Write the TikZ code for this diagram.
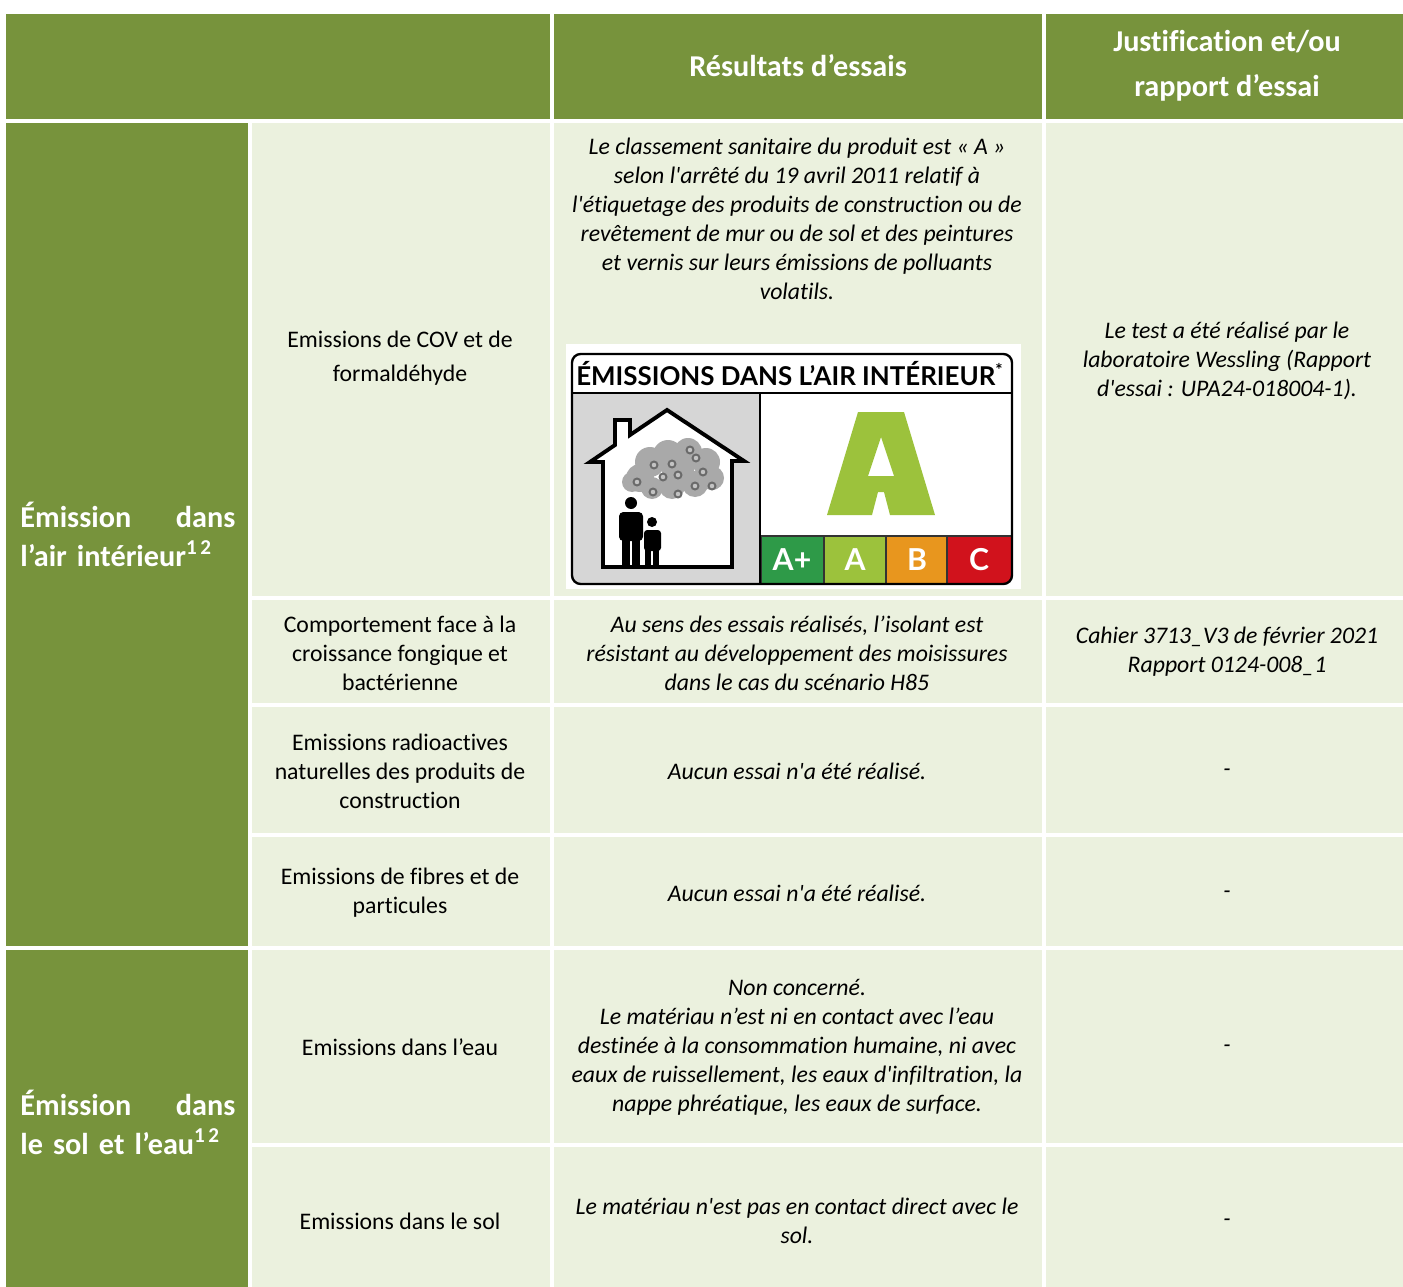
\documentclass[tikz,border=0pt]{standalone}
\usepackage{fontspec}
\setmainfont{Carlito}[Ligatures={TeX,NoCommon}]
\newfontfamily\logofont{Lato}
\definecolor{hdrgreen}{HTML}{77933C}
\definecolor{cellgreen}{HTML}{EBF1DE}
\definecolor{panelgray}{HTML}{D6D6D6}
\definecolor{cloudgray}{HTML}{A9A9A9}
\definecolor{dotgray}{HTML}{6A6A6A}
\definecolor{aplusgreen}{HTML}{2E9A48}
\definecolor{agreen}{HTML}{9CC23C}
\definecolor{borange}{HTML}{E8961E}
\definecolor{cred}{HTML}{D1121C}
\newcommand{\sq}{\textquotesingle}
\begin{document}
\begin{tikzpicture}[x=0.463pt, y=-0.463pt,
		hdr/.style={text=white, font=\fontsize{14}{20.8}\selectfont\bfseries, align=center, inner sep=0pt},
		grp/.style={text=white, font=\fontsize{14}{18}\selectfont\bfseries, align=left, text width=99.5pt, anchor=west, inner sep=0pt},
		crit/.style={font=\fontsize{11}{13.4}\selectfont, align=center, inner sep=0pt},
		res/.style={font=\fontsize{11}{13.4}\selectfont\itshape, align=center, inner sep=0pt},
		badge/.style={text=white, font=\logofont\fontsize{14}{14}\selectfont\bfseries, inner sep=0pt}]
		\useasboundingbox (0,0) rectangle (1403,1287);
		% header row
		\fill[hdrgreen] (6,14) rectangle (550,119);
		\fill[hdrgreen] (554,14) rectangle (1042,119);
		\fill[hdrgreen] (1046,14) rectangle (1403,119);
		\node[hdr] (hres) at (798,66) {Résultats d’essais};
		\node[hdr] (hjust) at (1227,66) {Justification et/ou\\rapport d’essai};
		% cells
		\fill[hdrgreen] (6,123) rectangle (248,946);
		\fill[hdrgreen] (6,950) rectangle (248,1287);
		\foreach \t/\b in {123/596, 600/703, 707/833, 837/946, 950/1143, 1147/1287} {
			\fill[cellgreen] (252,\t) rectangle (550,\b);
			\fill[cellgreen] (554,\t) rectangle (1042,\b);
			\fill[cellgreen] (1046,\t) rectangle (1403,\b);
		}
		\node[grp] (gair) at (20,534) {Émission\hfill dans\\l’air intérieur\textsuperscript{1\,2}};
		\node[grp] (gsol) at (20,1122) {Émission\hfill dans\\le sol et l’eau\textsuperscript{1\,2}};
		% criteria
		\node[crit, font=\fontsize{11}{15.7}\selectfont] (cov) at (400,358) {Emissions de COV et de\\formaldéhyde};
		\node[crit] (fong) at (400,653) {Comportement face à la\\croissance fongique et\\bactérienne};
		\node[crit] (radio) at (400,771) {Emissions radioactives\\naturelles des produits de\\construction};
		\node[crit] (fibre) at (400,893) {Emissions de fibres et de\\particules};
		\node[crit] (eau) at (400,1047) {Emissions dans l’eau};
		\node[crit] (sol) at (400,1221) {Emissions dans le sol};
		% results
		\node[res] (rcov) at (797,219) {Le classement sanitaire du produit est « A »\\selon l\sq arrêté du 19 avril 2011 relatif à\\l\sq étiquetage des produits de construction ou de\\revêtement de mur ou de sol et des peintures\\et vernis sur leurs émissions de polluants\\volatils.};
		\node[res] (rfong) at (797,653) {Au sens des essais réalisés, l’isolant est\\résistant au développement des moisissures\\dans le cas du scénario H85};
		\node[res] (rradio) at (797,771) {Aucun essai n\sq a été réalisé.};
		\node[res] (rfibre) at (797,893) {Aucun essai n\sq a été réalisé.};
		\node[res] (reau) at (797,1047) {Non concerné.\\Le matériau n’est ni en contact avec l’eau\\destinée à la consommation humaine, ni avec\\eaux de ruissellement, les eaux d\sq infiltration, la\\nappe phréatique, les eaux de surface.};
		\node[res] (rsol) at (797,1221) {Le matériau n\sq est pas en contact direct avec le\\sol.};
		% justification
		\node[res] (jcov) at (1227,361) {Le test a été réalisé par le\\laboratoire Wessling (Rapport\\d\sq essai : UPA24-018004-1).};
		\node[res] (jfong) at (1227,652) {Cahier 3713\_V3 de février 2021\\Rapport 0124-008\_1};
		\node[res] (jradio) at (1227,771) {-\vphantom{Ap}};
		\node[res] (jfibre) at (1227,893) {-\vphantom{Ap}};
		\node[res] (jeau) at (1227,1047) {-\vphantom{Ap}};
		\node[res] (jsol) at (1227,1221) {-\vphantom{Ap}};
		% label
		\fill[white] (566,344) rectangle (1021,589);
		\begin{scope}
			\clip[rounded corners=4pt] (572,354) rectangle (1012,584);
			\fill[panelgray] (572,393) rectangle (760,584);
			\fill[black!80] (760,535) rectangle (1012,584);
			\fill[aplusgreen] (762,537) rectangle (823,584);
			\fill[agreen] (825,537) rectangle (885,584);
			\fill[borange] (887,537) rectangle (946,584);
			\fill[cred] (948,537) rectangle (1012,584);
		\end{scope}
		\node[badge] (lap) at (792,560) {A+};
		\node[badge] (la) at (855,560) {A};
		\node[badge] (lb) at (917,560) {B};
		\node[badge] (lc) at (979,560) {C};
		\fill[agreen, even odd rule] (827,515) -- (858,412) -- (904,412) -- (935,515) -- (890,515) -- (884,492) -- (878,492) -- (872,515) -- cycle
			(881,437) -- (894,476) -- (868,476) -- cycle;
		% house
		\filldraw[fill=white, line width=1.8pt, line join=miter] (603,567) -- (603,462) -- (590,462) -- (615,445) -- (615,420) -- (630,420) -- (630,435) -- (667,410) -- (744,461) -- (732,461) -- (732,567) -- cycle;
		\foreach \cx/\cy/\r in {640/478/14, 650/462/15, 668/455/15, 688/452/14, 706/462/14, 712/478/12, 695/484/13, 672/486/13, 652/488/11, 632/482/10, 678/470/16}
			\fill[cloudgray] (\cx,\cy) circle (\r);
		\foreach \cx/\cy in {690/450, 696/458, 672/464, 654/465, 703/472, 678/475, 663/477, 637/482, 695/486, 712/486, 653/492, 678/494}
			\filldraw[draw=dotgray, fill=cloudgray!70, line width=0.9pt] (\cx,\cy) circle (3.5);
		\fill (631,503) circle (6);
		\fill[rounded corners=2pt] (619,512) rectangle (643,541);
		\fill (622,536) rectangle (630,567);
		\fill (632,536) rectangle (640,567);
		\fill (652,522) circle (5);
		\fill[rounded corners=1.5pt] (644,530) rectangle (661,551);
		\fill (645,548) rectangle (651,567);
		\fill (653,548) rectangle (659,567);
		\draw[line width=1pt] (572,393) -- (1012,393);
		\draw[line width=1pt] (760,393) -- (760,584);
		\draw[line width=1.1pt, rounded corners=4pt] (572,354) rectangle (1012,584);
		\node[font=\logofont\fontsize{12}{12}\selectfont\bfseries] (ltitle) at (790,374) {ÉMISSIONS DANS L’AIR INTÉRIEUR\textsuperscript{*}};
\end{tikzpicture}
\end{document}
